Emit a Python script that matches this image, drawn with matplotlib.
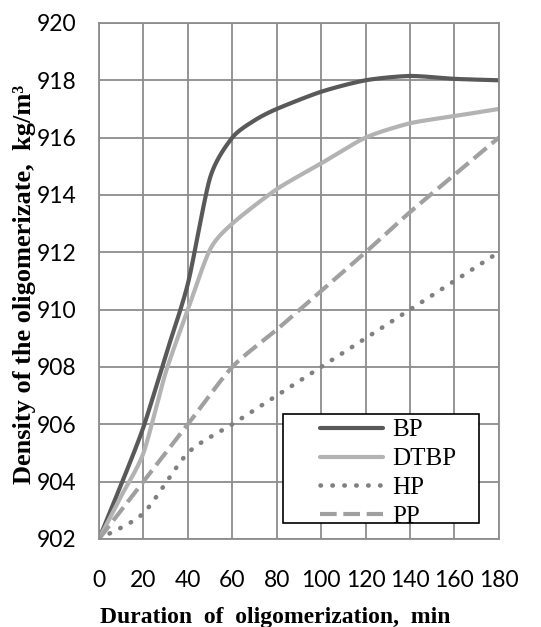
import numpy as np
import matplotlib
matplotlib.use("Agg")
import matplotlib.pyplot as plt
from matplotlib.patches import Rectangle

# Data
x_bp = [0, 10, 20, 30, 40, 50, 60, 70, 80, 100, 120, 140, 160, 180]
y_bp = [902, 903.9, 905.9, 908.4, 910.9, 914.6, 916.0, 916.6, 917.0, 917.6, 918.0, 918.15, 918.05, 918.0]

x_dtbp = [0, 10, 20, 30, 40, 50, 60, 80, 100, 120, 140, 160, 180]
y_dtbp = [902, 903.5, 905.0, 907.8, 910.0, 912.1, 913.0, 914.2, 915.1, 916.0, 916.5, 916.75, 917.0]

x_hp = [0, 20, 40, 60, 80, 100, 120, 140, 160, 180]
y_hp = [902, 902.9, 905.0, 906.0, 907.0, 908.0, 909.0, 910.0, 911.0, 912.0]

x_pp = [0, 20, 40, 60, 80, 100, 120, 140, 160, 180]
y_pp = [902, 904.0, 906.0, 908.0, 909.3, 910.65, 912.0, 913.4, 914.7, 916.0]

labels = ["BP", "DTBP", "HP", "PP"]
xticks = list(range(0, 181, 20))
yticks = list(range(902, 921, 2))


def smooth(xs, ys, n=40):
    """Catmull-Rom rendering of the line through the data points (like Excel smoothing)."""
    P = np.column_stack([np.asarray(xs, float), np.asarray(ys, float)])
    P = np.vstack([P[0] - (P[1] - P[0]), P, P[-1] + (P[-1] - P[-2])])
    out = []
    t = np.linspace(0, 1, n)[:, None]
    h00 = 2 * t**3 - 3 * t**2 + 1
    h10 = t**3 - 2 * t**2 + t
    h01 = -2 * t**3 + 3 * t**2
    h11 = t**3 - t**2
    for i in range(1, len(P) - 2):
        p0, p1, p2, p3 = P[i - 1], P[i], P[i + 1], P[i + 2]
        m1 = (p2 - p0) / 2 * 0.75
        m2 = (p3 - p1) / 2 * 0.75
        seg = h00 * p1 + h10 * m1 + h01 * p2 + h11 * m2
        out.append(seg if i == 1 else seg[1:])
    c = np.vstack(out)
    return c[:, 0], c[:, 1]


fig = plt.figure(figsize=(5.41, 6.27), dpi=100)
ax = fig.add_axes([0.183, 0.1404, 0.739, 0.823])

grid_c = "#8c8c8c"
ax.set_xlim(0, 180)
ax.set_ylim(902, 920)
ax.set_xticks(xticks)
ax.set_yticks(yticks)
ax.grid(True, color=grid_c, linewidth=1.3)
ax.set_axisbelow(True)
for s in ax.spines.values():
    s.set_color(grid_c)
    s.set_linewidth(1.3)
ax.tick_params(length=0, labelsize=16.5, colors="black")
ax.tick_params(axis="x", pad=22)
ax.tick_params(axis="y", pad=16)
for lab in ax.get_xticklabels() + ax.get_yticklabels():
    lab.set_fontfamily("Lato")

sx, sy = smooth(x_bp, y_bp)
ax.plot(sx, sy, color="#595959", lw=3.0, label=labels[0], solid_capstyle="round")
sx, sy = smooth(x_dtbp, y_dtbp)
ax.plot(sx, sy, color="#b3b3b3", lw=3.0, label=labels[1], solid_capstyle="round")
sx, sy = smooth(x_hp, y_hp)
ax.plot(sx, sy, color="#808080", lw=3.3, linestyle=(0, (0.1, 2.5)), dash_capstyle="round", label=labels[2])
sx, sy = smooth(x_pp, y_pp)
ax.plot(sx, sy, color="#a0a0a0", lw=3.0, linestyle=(0, (4.0, 1.6)), label=labels[3])

# legend frame (as in the reference, with a wider left padding)
ax.add_patch(Rectangle((283 / 541, 1 - 523 / 627), (479 - 283) / 541, (523 - 414) / 627,
                       transform=fig.transFigure, facecolor="white", edgecolor="black",
                       linewidth=1.2, zorder=4, clip_on=False))
leg = ax.legend(loc="upper left", bbox_to_anchor=(320 / 541, 1 - 419 / 627), bbox_transform=fig.transFigure,
                frameon=False, handlelength=2.5, handletextpad=0.4,
                labelspacing=0.25, borderpad=0.0, borderaxespad=0,
                prop={"family": "Liberation Serif", "size": 18})
leg.set_zorder(6)

fig.text(275 / 541, 1 - 623 / 627, "Duration  of  oligomerization,  min", family="Liberation Serif",
         weight="bold", fontsize=17, ha="center", va="baseline")
fig.text(31 / 541, 1 - 284 / 627, "Density of the oligomerizate,  kg/m³", family="Liberation Serif",
         weight="bold", fontsize=19, ha="center", va="baseline", rotation=90, rotation_mode="anchor")

fig.savefig("out.png", dpi=100)
